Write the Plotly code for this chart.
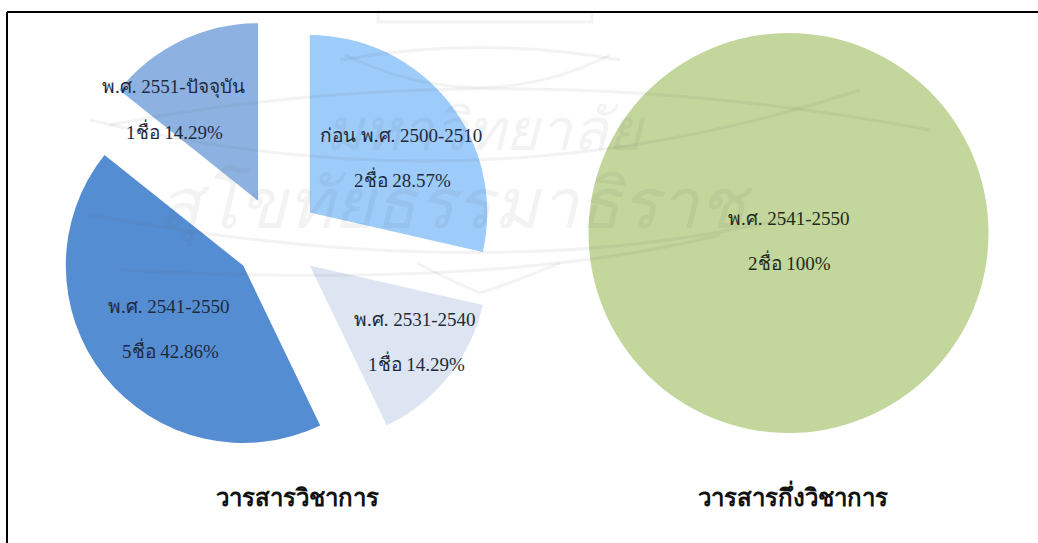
import plotly.graph_objects as go

periods_academic = ["ก่อน พ.ศ. 2500-2510", "พ.ศ. 2531-2540", "พ.ศ. 2541-2550", "พ.ศ. 2551-ปัจจุบัน"]
shares_academic = [28.57, 14.29, 42.86, 14.29]
detail_academic = ["2ชื่อ 28.57%", "1ชื่อ 14.29%", "5ชื่อ 42.86%", "1ชื่อ 14.29%"]
colors_academic = ["#9DCBFA", "#DCE5F1", "#558DD3", "#8DB2E1"]

periods_semi = ["พ.ศ. 2541-2550"]
shares_semi = [100]
detail_semi = ["2ชื่อ 100%"]
colors_semi = ["#C3D69B"]

titles = ["วารสารวิชาการ", "วารสารกึ่งวิชาการ"]
watermark_lines = ["มหาวิทยาลัย", "สุโขทัยธรรมาธิราช"]

W, H = 1038, 543
FONT = "Liberation Serif, Noto Sans CJK SC, DejaVu Sans, serif"

def dom(cx, cy, half):
    return dict(x=[(cx - half) / W, (cx + half) / W], y=[1 - (cy + half) / H, 1 - (cy - half) / H])

fig = go.Figure()
fig.add_trace(go.Pie(
    values=shares_academic, labels=periods_academic, sort=False, direction="clockwise", rotation=0,
    pull=[0.24] * 4, marker=dict(colors=colors_academic, line=dict(width=0)),
    textinfo="none", hoverinfo="label+value", showlegend=False, domain=dom(276.5, 239, 220),
))
fig.add_trace(go.Pie(
    values=shares_semi, labels=periods_semi, sort=False,
    marker=dict(colors=colors_semi, line=dict(width=0)),
    textinfo="none", hoverinfo="label+value", showlegend=False, domain=dom(788.5, 233, 200),
))

def note(x, y, text, size=19, color="#1f2a3c", bold=False, italic=False):
    label = f"<b>{text}</b>" if bold else text
    label = f"<i>{label}</i>" if italic else label
    fig.add_annotation(x=x / W, y=1 - y / H, xref="paper", yref="paper", text=label, showarrow=False,
                       font=dict(family=FONT, size=size, color=color), xanchor="center", yanchor="middle")

# Faint background watermark
note(485, 130, watermark_lines[0], 58, "rgba(90,90,90,0.07)", italic=True)
note(455, 205, watermark_lines[1], 70, "rgba(90,90,90,0.07)", italic=True)

label_pos = [(401, 135), (415, 319), (169, 306), (173, 87)]
for (x, y), p, d in zip(label_pos, periods_academic, detail_academic):
    note(x, y, p)
    note(x + 1, y + 44, d)
note(789, 218, periods_semi[0], color="#222a20")
note(789, 262, detail_semi[0], color="#222a20")
note(297, 498, titles[0], 24, "#111111", True)
note(793, 495, titles[1], 24, "#111111", True)

def px(x, y):
    return f"{x / W:.4f} {1 - y / H:.4f}"

def curve(*p):
    return dict(type="path", xref="paper", yref="paper", layer="above",
                path=f"M {px(*p[0])} Q {px(*p[1])} {px(*p[2])}",
                line=dict(color="rgba(90,90,90,0.07)", width=3))

line = dict(color="black", width=2)
fig.update_layout(
    width=W, height=H, margin=dict(l=0, r=0, t=0, b=0), paper_bgcolor="white", showlegend=False,
    shapes=[
        curve((110, 125), (500, 50), (930, 130)),
        curve((90, 120), (480, 215), (860, 90)),
        curve((90, 215), (500, 290), (800, 215)),
        curve((120, 270), (500, 290), (720, 235)),
        curve((340, 60), (480, 35), (620, 60)),
        curve((345, 55), (480, 120), (610, 55)),
        curve((417, 263), (460, 285), (480, 293)),
        curve((480, 293), (520, 280), (560, 263)),
        dict(type="rect", xref="paper", yref="paper", layer="above",
             x0=378 / W, x1=592 / W, y0=1 - 22 / H, y1=1 - 12 / H,
             line=dict(color="rgba(90,90,90,0.07)", width=3)),
        dict(type="line", xref="paper", yref="paper", x0=7 / W, x1=1, y0=1 - 12 / H, y1=1 - 12 / H, line=line),
        dict(type="line", xref="paper", yref="paper", x0=7 / W, x1=7 / W, y0=1 - 12 / H, y1=0, line=line),
    ],
)
fig.write_html("out.html", config=dict(displayModeBar=False),
               post_script="document.body.style.margin='0';")
